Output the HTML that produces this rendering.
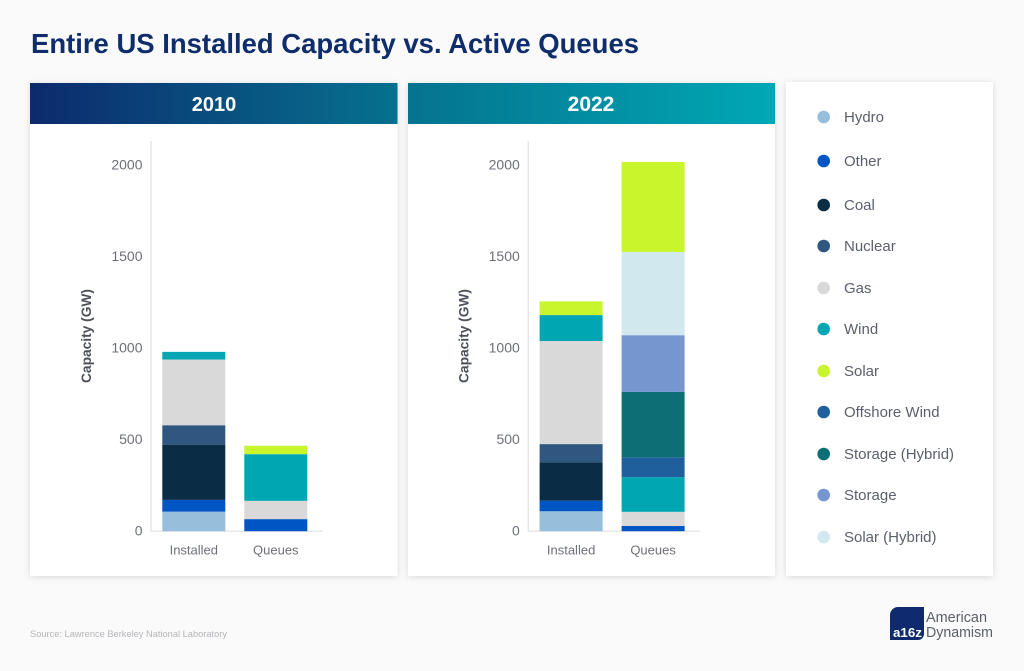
<!DOCTYPE html>
<html lang="en">
<head>
<meta charset="utf-8">
<title>Entire US Installed Capacity vs. Active Queues</title>
<style>
html,body{margin:0;padding:0;background:#fafafa;}
svg{display:block;font-family:"Liberation Sans",sans-serif;}
</style>
</head>
<body>
<svg id="root" xmlns="http://www.w3.org/2000/svg" width="1024" height="671" viewBox="0 0 1024 671">
  <defs>
    <linearGradient id="hdr" gradientUnits="userSpaceOnUse" x1="30" y1="0" x2="775" y2="0">
      <stop offset="0" stop-color="#0c2a6d"/>
      <stop offset="0.5" stop-color="#06728f"/>
      <stop offset="1" stop-color="#00a8b5"/>
    </linearGradient>
    <filter id="shadow" x="-10%" y="-10%" width="120%" height="120%">
      <feDropShadow dx="0" dy="1" stdDeviation="3.5" flood-color="#000" flood-opacity="0.13"/>
    </filter>
  </defs>
  <rect x="0" y="0" width="1024" height="671" fill="#fafafa"/>
  <text x="31" y="53" font-size="28" font-weight="700" fill="#0f2d6b" textLength="608" lengthAdjust="spacingAndGlyphs">Entire US Installed Capacity vs. Active Queues</text>

  <rect x="30" y="83" width="367.5" height="493" fill="#fff" filter="url(#shadow)"/>
  <rect x="408" y="83" width="367" height="493" fill="#fff" filter="url(#shadow)"/>
  <rect x="786" y="82" width="207" height="494" fill="#fff" filter="url(#shadow)"/>

  <rect x="30" y="83" width="367.5" height="41" fill="url(#hdr)"/>
  <rect x="408" y="83" width="367" height="41" fill="url(#hdr)"/>
  <text x="214" y="111" font-size="20" font-weight="700" fill="#fff" text-anchor="middle">2010</text>
  <text x="591" y="111" font-size="21" font-weight="700" fill="#fff" text-anchor="middle">2022</text>

  <g id="chart-2010"></g>
  <g id="chart-2022"></g>
  <g id="legend"></g>

  <text x="30" y="637" font-size="9.5" fill="#b4b6ba" textLength="197" lengthAdjust="spacingAndGlyphs">Source: Lawrence Berkeley National Laboratory</text>

  <g>
    <path d="M898 607H924V634a6 6 0 0 1-6 6H890V615a8 8 0 0 1 8-8Z" fill="#0f2a6e"/>
    <text x="893" y="637" font-size="12.5" font-weight="700" fill="#fff" textLength="29" lengthAdjust="spacingAndGlyphs">a16z</text>
    <text x="926" y="622" font-size="14.5" fill="#5a5f68" textLength="61" lengthAdjust="spacingAndGlyphs">American</text>
    <text x="926" y="637" font-size="14.5" fill="#5a5f68" textLength="67" lengthAdjust="spacingAndGlyphs">Dynamism</text>
  </g>
</svg>
<script>
// Categories and ticks
var categories = ['Installed', 'Queues'];
var tickValues = [0, 500, 1000, 1500, 2000];
var stackOrder = ['Hydro', 'Other', 'Coal', 'Nuclear', 'Gas', 'Wind', 'Offshore Wind', 'Storage (Hybrid)', 'Storage', 'Solar (Hybrid)', 'Solar'];
var legendOrder = ['Hydro', 'Other', 'Coal', 'Nuclear', 'Gas', 'Wind', 'Solar', 'Offshore Wind', 'Storage (Hybrid)', 'Storage', 'Solar (Hybrid)'];

// Values in GW: [Installed, Queues]
var hydro2010 = [107, 0];
var other2010 = [64, 66];
var coal2010 = [302, 0];
var nuclear2010 = [106, 0];
var gas2010 = [359, 100];
var wind2010 = [42, 255];
var solar2010 = [0, 46];

var hydro2022 = [109, 0];
var other2022 = [58, 29];
var coal2022 = [209, 0];
var nuclear2022 = [100, 0];
var gas2022 = [563, 77];
var wind2022 = [142, 189];
var offshore2022 = [0, 109];
var storageHybrid2022 = [0, 357];
var storage2022 = [0, 310];
var solarHybrid2022 = [0, 455];
var solar2022 = [75, 492];

var seriesColors = {
  'Hydro': '#95bfdb', 'Other': '#0055c4', 'Coal': '#0a2d45', 'Nuclear': '#2f577f',
  'Gas': '#d9d9d9', 'Wind': '#00a7b3', 'Solar': '#c9f52d', 'Offshore Wind': '#1f5f9c',
  'Storage (Hybrid)': '#0e6e75', 'Storage': '#7596cf', 'Solar (Hybrid)': '#d2e8ef'
};

var values2010 = {
  'Hydro': hydro2010, 'Other': other2010, 'Coal': coal2010, 'Nuclear': nuclear2010,
  'Gas': gas2010, 'Wind': wind2010, 'Solar': solar2010
};
var values2022 = {
  'Hydro': hydro2022, 'Other': other2022, 'Coal': coal2022, 'Nuclear': nuclear2022,
  'Gas': gas2022, 'Wind': wind2022, 'Offshore Wind': offshore2022,
  'Storage (Hybrid)': storageHybrid2022, 'Storage': storage2022,
  'Solar (Hybrid)': solarHybrid2022, 'Solar': solar2022
};

var SVG_NS = 'http://www.w3.org/2000/svg';
var AXIS_BASE = 531.2;
var AXIS_SCALE = 0.183;

function yScale(v) {
  return AXIS_BASE - v * AXIS_SCALE;
}

function slug(s) {
  return s.toLowerCase().replace(/[^a-z0-9]+/g, '-').replace(/-$/, '');
}

function make(tag, attrs, parent, text) {
  var el = document.createElementNS(SVG_NS, tag);
  for (var k in attrs) el.setAttribute(k, attrs[k]);
  if (text !== undefined) el.textContent = text;
  parent.appendChild(el);
  return el;
}

function drawChart(groupId, axisX, values) {
  var g = document.getElementById(groupId);
  var barWidth = 63;
  var barStep = 82;
  var firstBar = axisX + 11.3;

  var yAxis = make('line', {x1: axisX, x2: axisX, y1: 141, y2: AXIS_BASE, stroke: '#e4e4e6', 'stroke-width': 1.4}, g);
  
  

  var xAxis = make('line', {x1: axisX, x2: axisX + 171.7, y1: AXIS_BASE, y2: AXIS_BASE, stroke: '#e4e4e6', 'stroke-width': 1.4}, g);
  
  

  tickValues.forEach(function (t) {
    var lab = make('text', {x: axisX - 8.5, y: yScale(t) + 4.2, 'font-size': 14, fill: '#6d7078', 'text-anchor': 'end'}, g, String(t));
    
    
  });

  var title = make('text', {x: 0, y: 0, 'font-size': 13.5, 'font-weight': 700, fill: '#4c505a', 'text-anchor': 'middle',
    transform: 'translate(' + (axisX - 60) + ',336) rotate(-90)', textLength: 94, lengthAdjust: 'spacingAndGlyphs'}, g, 'Capacity (GW)');
  
  

  categories.forEach(function (cat, i) {
    var x = firstBar + i * barStep;
    var running = 0;
    stackOrder.forEach(function (name) {
      var series = values[name];
      if (!series || !series[i]) return;
      var top = yScale(running + series[i]);
      var bottom = yScale(running);
      var rect = make('rect', {x: x, y: top, width: barWidth, height: bottom - top, fill: seriesColors[name]}, g);
      
      
      running += series[i];
    });
    var label = make('text', {x: x + barWidth / 2, y: 554.5, 'font-size': 13, fill: '#6d7078', 'text-anchor': 'middle'}, g, cat);
    
    
  });
}

drawChart('chart-2010', 151, values2010);
drawChart('chart-2022', 528.3, values2022);

// Legend
var legendY = [117, 161, 205, 246, 288, 329, 371, 412, 454, 495, 537];
var legendG = document.getElementById('legend');
legendOrder.forEach(function (name, i) {
  var row = make('g', {}, legendG);
  
  
  var dot = make('circle', {cx: 823.7, cy: legendY[i], r: 6.3, fill: seriesColors[name]}, row);
  
  
  var text = make('text', {x: 844, y: legendY[i] + 5, 'font-size': 15, fill: '#5a5f6b'}, row, name);
  
  
});
</script>
</body>
</html>
